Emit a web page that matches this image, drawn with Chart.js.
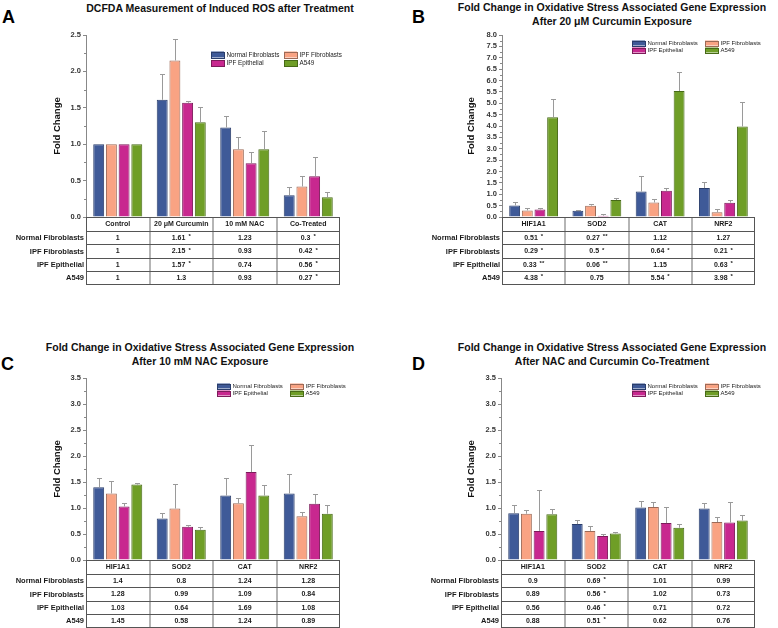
<!DOCTYPE html>
<html>
<head>
<meta charset="utf-8">
<script src="https://cdn.jsdelivr.net/npm/chart.js@4.4.0/dist/chart.umd.min.js"></script>
<style>
    body { margin: 0; background: #fff; width: 778px; height: 628px; position: relative; overflow: hidden; font-family: "Liberation Sans", Arial, sans-serif; }
    .box { position: absolute; width: 389px; height: 314px; }
    .title { position: absolute; width: 400px; text-align: center; font-weight: bold; font-size: 10.5px; line-height: 13.5px; color: #111; white-space: nowrap; }
    .letter { position: absolute; font-weight: bold; font-size: 18px; line-height: 18px; color: #000; }
</style>
</head>
<body>
<div class="letter" style="left:2px;top:8px">A</div>
<div class="letter" style="left:412px;top:8px">B</div>
<div class="letter" style="left:1px;top:355px">C</div>
<div class="letter" style="left:412px;top:355px">D</div>

<div class="title" style="left:20px;top:2px">DCFDA Measurement of Induced ROS after Treatment</div>
<div class="title" style="left:412px;top:1px">Fold Change in Oxidative Stress Associated Gene Expression<br>After 20 μM Curcumin Exposure</div>
<div class="title" style="left:0px;top:341px">Fold Change in Oxidative Stress Associated Gene Expression<br>After 10 mM NAC Exposure</div>
<div class="title" style="left:412px;top:341px">Fold Change in Oxidative Stress Associated Gene Expression<br>After NAC and Curcumin Co-Treatment</div>

<div class="box" style="left:0;top:0"><canvas id="chartA" width="389" height="314"></canvas></div>
<div class="box" style="left:389px;top:0"><canvas id="chartB" width="389" height="314"></canvas></div>
<div class="box" style="left:0;top:314px"><canvas id="chartC" width="389" height="314"></canvas></div>
<div class="box" style="left:389px;top:314px"><canvas id="chartD" width="389" height="314"></canvas></div>

<script>
const fontFam = '"Liberation Sans", Arial, sans-serif';

const cellLines = ['Normal Fibroblasts', 'IPF Fibroblasts', 'IPF Epithelial', 'A549'];
const treatments = ['Control', '20 μM Curcumin', '10 mM NAC', 'Co-Treated'];
const genes = ['HIF1A1', 'SOD2', 'CAT', 'NRF2'];

const barColors = ['#3f5a98', '#f9a383', '#c8288f', '#6f9e27'];
const barBorders = ['#2a3d6b', '#9c6a57', '#7c1b5a', '#476a17'];

// A - ROS (rows = cell lines, cols = treatments)
const rosValues = [[1, 1.61, 1.23, 0.3], [1, 2.15, 0.93, 0.42], [1, 1.57, 0.74, 0.56], [1, 1.3, 0.93, 0.27]];
const rosErrors = [[0, 0.36, 0.16, 0.11], [0, 0.30, 0.17, 0.14], [0, 0.02, 0.15, 0.27], [0, 0.21, 0.25, 0.08]];
const rosMarks = [['', '*', '', '*'], ['', '*', '', '*'], ['', '*', '', '*'], ['', '', '', '*']];

// B - curcumin (cols = genes)
const curcValues = [[0.51, 0.27, 1.12, 1.27], [0.29, 0.5, 0.64, 0.21], [0.33, 0.06, 1.15, 0.63], [4.38, 0.75, 5.54, 3.98]];
const curcErrors = [[0.16, 0.04, 0.68, 0.25], [0.09, 0.06, 0.13, 0.14], [0.05, 0.06, 0.11, 0.13], [0.82, 0.08, 0.82, 1.08]];
const curcMarks = [['*', '**', '', ''], ['*', '*', '*', '*'], ['**', '**', '', '*'], ['*', '', '*', '*']];

// C - NAC
const nacValues = [[1.4, 0.8, 1.24, 1.28], [1.28, 0.99, 1.09, 0.84], [1.03, 0.64, 1.69, 1.08], [1.45, 0.58, 1.24, 0.89]];
const nacErrors = [[0.18, 0.10, 0.34, 0.37], [0.23, 0.47, 0.10, 0.08], [0.07, 0.03, 0.52, 0.18], [0.04, 0.05, 0.21, 0.16]];
const nacMarks = [['', '', '', ''], ['', '', '', ''], ['', '', '', ''], ['', '', '', '']];

// D - co-treatment
const coValues = [[0.9, 0.69, 1.01, 0.99], [0.89, 0.56, 1.02, 0.73], [0.56, 0.46, 0.71, 0.72], [0.88, 0.51, 0.62, 0.76]];
const coErrors = [[0.16, 0.08, 0.12, 0.10], [0.07, 0.10, 0.09, 0.10], [0.79, 0.04, 0.30, 0.40], [0.10, 0.03, 0.08, 0.11]];
const coMarks = [['', '*', '', ''], ['', '*', '', ''], ['', '*', '', ''], ['', '*', '', '']];

const errorBars = {
    id: 'errorBars',
    afterDatasetsDraw(chart) {
        let c = chart.ctx;
        let y = chart.scales.y;
        c.save();
        c.strokeStyle = '#9a9a9a';
        c.lineWidth = 1;
        chart.data.datasets.forEach((ds, i) => {
            chart.getDatasetMeta(i).data.forEach((bar, j) => {
                let e = ds.errors[j];
                if (!e) return;
                let top = Math.round(y.getPixelForValue(ds.data[j] + e)) + 0.5;
                let x = Math.round(bar.x) + 0.5;
                c.beginPath();
                c.moveTo(x, bar.y);
                c.lineTo(x, top);
                c.moveTo(x - 2.5, top);
                c.lineTo(x + 2.5, top);
                c.stroke();
            });
        });
        c.restore();
    }
};

const minorTicks = {
    id: 'minorTicks',
    afterDraw(chart) {
        let c = chart.ctx;
        let y = chart.scales.y;
        let left = chart.chartArea.left;
        c.save();
        c.strokeStyle = '#888';
        c.lineWidth = 1;
        for (let v = 0.25; v < y.max; v += 0.5) {
            let py = Math.round(y.getPixelForValue(v)) + 0.5;
            c.beginPath();
            c.moveTo(left - 2, py);
            c.lineTo(left, py);
            c.stroke();
        }
        c.restore();
    }
};

const panelLegend = {
    id: 'panelLegend',
    afterDraw(chart, args, opts) {
        let c = chart.ctx;
        let a = chart.chartArea;
        c.save();
        c.font = opts.size + 'px ' + fontFam;
        c.textBaseline = 'middle';
        c.textAlign = 'left';
        chart.data.datasets.forEach((ds, i) => {
            let x = a.right - opts.dx + (i % 2) * 73;
            let y = a.top + opts.y + Math.floor(i / 2) * opts.dy;
            c.fillStyle = ds.backgroundColor;
            c.fillRect(x, y - opts.boxH / 2, 13, opts.boxH);
            c.strokeStyle = ds.borderColor;
            c.lineWidth = 1;
            c.strokeRect(Math.round(x) + 0.5, Math.round(y - opts.boxH / 2) + 0.5, 13, opts.boxH);
            c.fillStyle = '#222';
            c.fillText(ds.label, x + 15.5, y + 0.5);
        });
        c.restore();
    }
};

const panelTable = {
    id: 'panelTable',
    afterDraw(chart) {
        let c = chart.ctx;
        let a = chart.chartArea;
        let xs = chart.scales.x;
        let labels = chart.data.labels;
        let sets = chart.data.datasets;
        let colW = (a.right - a.left) / labels.length;
        let headH = 14;
        let rowH = 13.3;
        let bottom = a.bottom + headH + rowH * sets.length;
        c.save();

        // grey column dividers
        c.strokeStyle = '#b5b5b5';
        c.lineWidth = 2;
        for (let j = 1; j < labels.length; j++) {
            let x = Math.round(a.left + j * colW);
            c.beginPath();
            c.moveTo(x, a.bottom);
            c.lineTo(x, bottom);
            c.stroke();
        }
        // row lines and border
        c.strokeStyle = '#555';
        c.lineWidth = 1;
        for (let r = 0; r <= sets.length + 1; r++) {
            let y = r === 0 ? a.bottom : a.bottom + headH + rowH * (r - 1);
            y = Math.round(y) + 0.5;
            c.beginPath();
            c.moveTo(a.left, y);
            c.lineTo(a.right, y);
            c.stroke();
        }
        c.beginPath();
        c.moveTo(Math.round(a.left) + 0.5, a.bottom);
        c.lineTo(Math.round(a.left) + 0.5, bottom);
        c.moveTo(Math.round(a.right) - 0.5, a.bottom);
        c.lineTo(Math.round(a.right) - 0.5, bottom);
        c.stroke();

        c.fillStyle = '#1a1a1a';
        c.textBaseline = 'middle';
        c.font = 'bold 7px ' + fontFam;
        c.textAlign = 'center';
        labels.forEach((lab, j) => {
            c.fillText(lab, xs.getPixelForValue(j), a.bottom + headH / 2 + 0.5);
        });

        sets.forEach((ds, i) => {
            let cy = a.bottom + headH + rowH * i + rowH / 2 + 0.5;
            c.font = 'bold 7.5px ' + fontFam;
            c.textAlign = 'right';
            c.fillText(ds.label, a.left - 2, cy);
            ds.data.forEach((v, j) => {
                let txt = String(v);
                let mark = ds.marks[j];
                c.font = 'bold 7px ' + fontFam;
                let w1 = c.measureText(txt).width;
                let w2 = 0;
                if (mark) {
                    c.font = 'bold 6px ' + fontFam;
                    w2 = c.measureText(mark).width + 3;
                }
                let x0 = xs.getPixelForValue(j) - (w1 + w2) / 2;
                c.textAlign = 'left';
                c.font = 'bold 7px ' + fontFam;
                c.fillText(txt, x0, cy);
                if (mark) {
                    c.font = 'bold 6px ' + fontFam;
                    c.fillText(mark, x0 + w1 + 3, cy - 1.5);
                }
            });
        });
        c.restore();
    }
};

function createPanel(id, labels, values, errors, marks, yMax, cfg) {
    let ctx = document.getElementById(id).getContext('2d');
    let datasets = cellLines.map((name, i) => ({
        label: name,
        data: values[i],
        errors: errors[i],
        marks: marks[i],
        backgroundColor: barColors[i],
        borderColor: barBorders[i],
        borderWidth: 1,
        categoryPercentage: 0.8,
        barPercentage: 0.86
    }));

    const config = {
        type: 'bar',
        data: { labels: labels, datasets: datasets },
        options: {
            responsive: false,
            animation: false,
            layout: { padding: { left: cfg.padLeft, right: cfg.padRight, top: cfg.padTop, bottom: cfg.padBottom } },
            scales: {
                x: { display: false },
                y: {
                    min: 0,
                    max: yMax,
                    ticks: {
                        stepSize: 0.5,
                        autoSkip: false,
                        color: '#333',
                        padding: 2,
                        font: { size: 7.5, weight: 'bold', family: fontFam },
                        callback: v => v.toFixed(1)
                    },
                    grid: { drawOnChartArea: false, tickLength: 3, color: '#888' },
                    border: { color: '#888' },
                    title: {
                        display: true,
                        text: 'Fold Change',
                        color: '#111',
                        padding: 0,
                        font: { size: 9.5, weight: 'bold', family: fontFam }
                    },
                    afterFit: s => { s.width = cfg.axisW; }
                }
            },
            plugins: {
                legend: { display: false },
                tooltip: { enabled: false },
                panelLegend: cfg.legend
            }
        },
        plugins: [errorBars, minorTicks, panelLegend, panelTable]
    };

    new Chart(ctx, config);
}

createPanel('chartA', treatments, rosValues, rosErrors, rosMarks, 2.5, {
    padLeft: 52, axisW: 34, padRight: 49, padTop: 35, padBottom: 97,
    legend: { dx: 129, y: 19.5, dy: 8.5, size: 6.3, boxH: 6 }
});
createPanel('chartB', genes, curcValues, curcErrors, curcMarks, 8, {
    padLeft: 77, axisW: 36, padRight: 23, padTop: 35, padBottom: 97,
    legend: { dx: 123, y: 8, dy: 7, size: 6, boxH: 5 }
});
createPanel('chartC', genes, nacValues, nacErrors, nacMarks, 3.5, {
    padLeft: 52, axisW: 34, padRight: 49, padTop: 64, padBottom: 68,
    legend: { dx: 123, y: 8, dy: 7, size: 6, boxH: 5 }
});
createPanel('chartD', genes, coValues, coErrors, coMarks, 3.5, {
    padLeft: 77, axisW: 35, padRight: 23, padTop: 64, padBottom: 68,
    legend: { dx: 123, y: 8, dy: 7, size: 6, boxH: 5 }
});
</script>
</body>
</html>
